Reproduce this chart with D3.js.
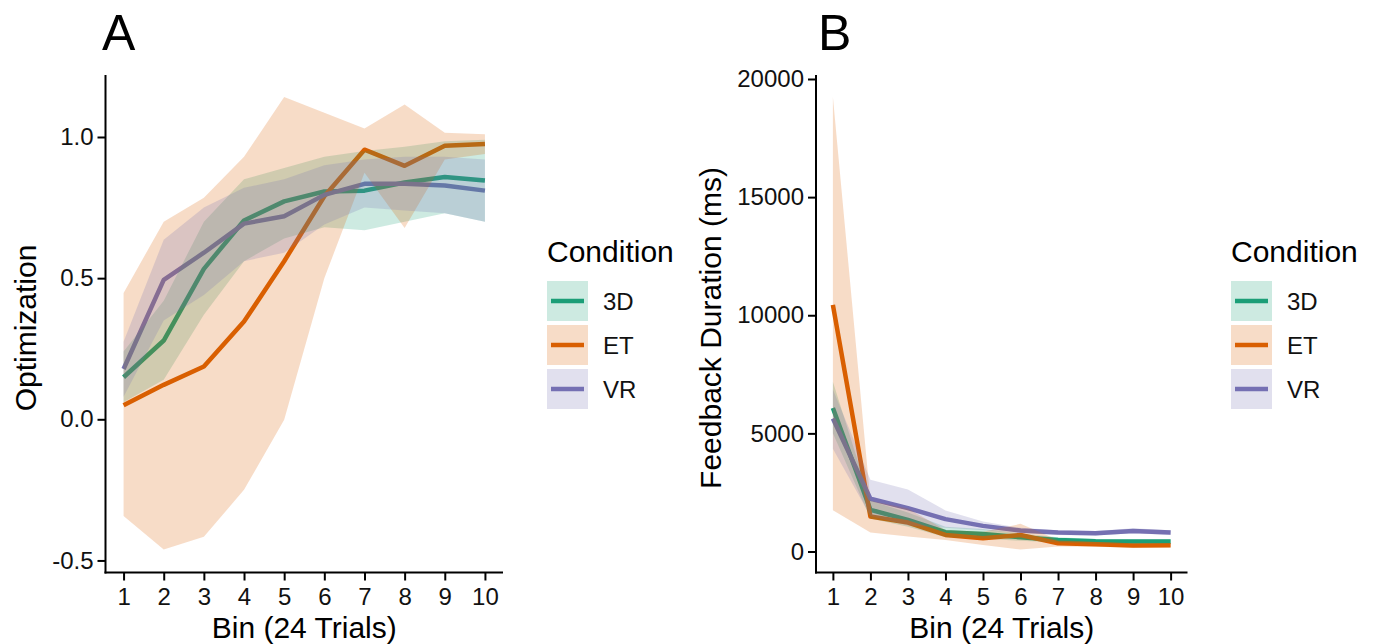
<!DOCTYPE html>
<html>
<head>
<meta charset="utf-8">
<script src="https://cdn.jsdelivr.net/npm/d3@7"></script>
<style>
body { margin: 0; background: #fff; }
text { font-family: "Liberation Sans", Arial, sans-serif; }
</style>
</head>
<body>
<svg id="chart" width="1376" height="644"></svg>
<script>
// bins and conditions
const bins = [1, 2, 3, 4, 5, 6, 7, 8, 9, 10];
const conditions = ['3D', 'ET', 'VR'];
const colors = ['#1b9e77', '#d95f02', '#7570b3'];

// panel A - optimization
const opt3D = [0.149, 0.279, 0.533, 0.704, 0.772, 0.807, 0.810, 0.839, 0.858, 0.846];
const opt3DLo = [0.06, 0.14, 0.37, 0.56, 0.64, 0.68, 0.67, 0.70, 0.73, 0.70];
const opt3DHi = [0.24, 0.42, 0.70, 0.85, 0.89, 0.93, 0.95, 0.965, 0.985, 0.99];
const optET = [0.05, 0.122, 0.187, 0.346, 0.56, 0.79, 0.955, 0.898, 0.969, 0.975];
const optETLo = [-0.343, -0.461, -0.416, -0.25, -0.002, 0.50, 0.873, 0.678, 0.92, 0.94];
const optETHi = [0.447, 0.70, 0.785, 0.93, 1.142, 1.086, 1.03, 1.115, 1.015, 1.01];
const optVR = [0.178, 0.494, 0.59, 0.693, 0.719, 0.795, 0.834, 0.834, 0.828, 0.81];
const optVRLo = [0.08, 0.35, 0.44, 0.56, 0.59, 0.69, 0.75, 0.74, 0.73, 0.70];
const optVRHi = [0.275, 0.636, 0.75, 0.82, 0.85, 0.90, 0.92, 0.93, 0.93, 0.92];
const optTicks = [-0.5, 0, 0.5, 1];

// panel B - feedback duration (ms)
const fb3D = [6070, 1765, 1340, 815, 745, 600, 490, 435, 420, 420];
const fb3DLo = [5000, 1400, 1050, 600, 550, 450, 380, 330, 320, 320];
const fb3DHi = [7180, 2150, 1650, 1050, 950, 760, 600, 530, 520, 520];
const fbET = [10440, 1480, 1225, 700, 560, 700, 350, 305, 250, 260];
const fbETLo = [1750, 800, 630, 490, 280, 80, 210, 200, 160, 170];
const fbETHi = [19250, 2150, 1820, 910, 840, 1170, 490, 410, 340, 350];
const fbVR = [5630, 2235, 1835, 1370, 1085, 885, 800, 775, 870, 800];
const fbVRLo = [4350, 1500, 1100, 1000, 900, 780, 700, 680, 770, 700];
const fbVRHi = [6860, 3040, 2620, 1740, 1270, 1000, 900, 870, 980, 900];
const fbTicks = [0, 5000, 10000, 15000, 20000];

let svg = d3.select('#chart');
svg.append('rect').attr('width', 1376).attr('height', 644).attr('fill', '#fff');

const plotTop = 75, plotBottom = 572.5;

function drawPanel(p) {
  let x = d3.scaleLinear().domain([0.55, 10.45]).range([p.x0, p.x1]);
  let y = d3.scaleLinear().domain(p.yDomain).range([plotBottom, plotTop]);
  let g = svg.append('g');

  let rows = p.series.map(s => bins.map((b, i) => ({ bin: b, v: s[0][i], lo: s[1][i], hi: s[2][i] })));

  let line = d3.line().x(d => x(d.bin)).y(d => y(d.v));
  let area = d3.area().x(d => x(d.bin)).y0(d => y(d.lo)).y1(d => y(d.hi));

  // lines first, ribbons over them (as in the original)
  rows.forEach((r, i) => {
    g.append('path').datum(r).attr('d', line)
      .attr('fill', 'none').attr('stroke', colors[i]).attr('stroke-width', 4.5)
      .attr('stroke-linejoin', 'round');
  });
  rows.forEach((r, i) => {
    g.append('path').datum(r).attr('d', area)
      .attr('fill', colors[i]).attr('fill-opacity', 0.22).attr('stroke', 'none');
  });

  let xAxis = g.append('g').attr('transform', `translate(0,${plotBottom})`)
    .call(d3.axisBottom(x).tickValues(bins).tickSize(8).tickSizeOuter(0).tickPadding(7));
  let yAxis = g.append('g').attr('transform', `translate(${p.x0},0)`)
    .call(d3.axisLeft(y).tickValues(p.yTicks).tickFormat(p.fmt).tickSize(8).tickSizeOuter(0).tickPadding(4));
  [xAxis, yAxis].forEach(a => {
    a.selectAll('path, line').attr('stroke', '#000').attr('stroke-width', 2);
    a.selectAll('text').attr('font-size', 24).attr('fill', '#111')
      .attr('font-family', '"Liberation Sans", Arial, sans-serif');
  });
  yAxis.select('.domain').attr('d', `M0,${plotTop}V${plotBottom + 1}`);
  xAxis.select('.domain').attr('d', `M${p.x0 - 1},0H${p.x1}`);

  svg.append('text').attr('x', (p.x0 + p.x1) / 2).attr('y', 638)
    .attr('text-anchor', 'middle').attr('font-size', 30).attr('fill', '#000').text('Bin (24 Trials)');
  svg.append('text').attr('transform', `translate(${p.titleX},328) rotate(-90)`)
    .attr('text-anchor', 'middle').attr('font-size', 30).attr('fill', '#000').text(p.yTitle);
  svg.append('text').attr('x', p.tagX).attr('y', 50)
    .attr('font-size', 50).attr('fill', '#000').text(p.tag);

  // legend
  let lg = svg.append('g').attr('transform', `translate(${p.legendX},0)`);
  lg.append('text').attr('x', 0).attr('y', 262).attr('font-size', 30).attr('fill', '#000').text('Condition');
  conditions.forEach((c, i) => {
    let ky = 281 + i * 44;
    lg.append('rect').attr('x', 0).attr('y', ky).attr('width', 41).attr('height', 40)
      .attr('fill', colors[i]).attr('fill-opacity', 0.22);
    lg.append('line').attr('x1', 4).attr('x2', 37).attr('y1', ky + 20).attr('y2', ky + 20)
      .attr('stroke', colors[i]).attr('stroke-width', 4.5);
    lg.append('text').attr('x', 56).attr('y', ky + 20).attr('dy', '0.36em')
      .attr('font-size', 24).attr('fill', '#111').text(c);
  });
}

drawPanel({
  x0: 105.5, x1: 503,
  yDomain: [-0.5427, 1.2196], yTicks: optTicks, fmt: d => d.toFixed(1),
  series: [[opt3D, opt3DLo, opt3DHi], [optET, optETLo, optETHi], [optVR, optVRLo, optVRHi]],
  yTitle: 'Optimization', titleX: 36, tag: 'A', tagX: 102, legendX: 547
});

drawPanel({
  x0: 816, x1: 1187.5,
  yDomain: [-889, 20169], yTicks: fbTicks, fmt: d => String(d),
  series: [[fb3D, fb3DLo, fb3DHi], [fbET, fbETLo, fbETHi], [fbVR, fbVRLo, fbVRHi]],
  yTitle: 'Feedback Duration (ms)', titleX: 721, tag: 'B', tagX: 818, legendX: 1231
});
</script>
</body>
</html>
